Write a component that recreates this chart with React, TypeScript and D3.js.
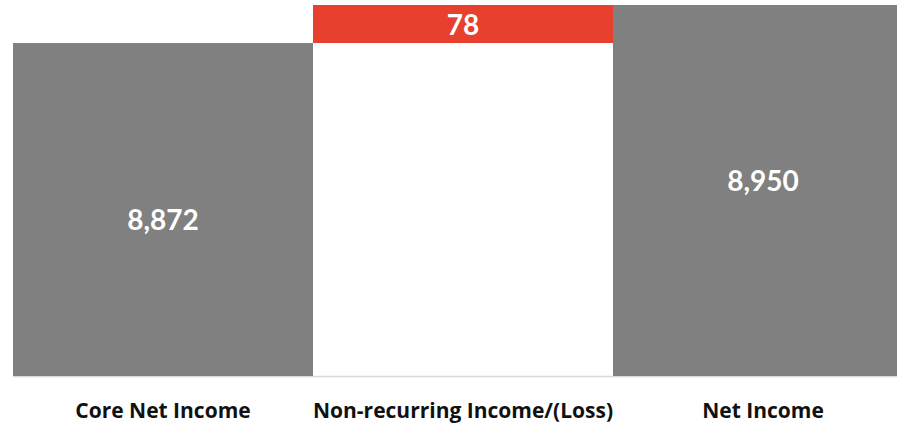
import React from "react";
import * as d3 from "d3";

const categories = ["Core Net Income", "Non-recurring Income/(Loss)", "Net Income"];
const starts = [0, 8872, 0];
const ends = [8872, 8950, 8950];
const labels = ["8,872", "78", "8,950"];
const kinds = ["total", "delta", "total"];
const labelShift = [9, 0, -11];

const W = 897;
const H = 424;

export default function App() {
  const x = d3.scaleBand<string>().domain(categories).range([13, 913]).paddingInner(0).paddingOuter(0);
  const y = d3.scaleLinear().domain([8189, 8950]).range([376, 5]);
  const yc = (v: number) => Math.min(376, Math.max(-10, y(v)));
  return (
    <svg
      width={W}
      height={H}
      style={{ position: "absolute", left: 0, top: 0, display: "block", background: "#fff" }}
    >
      <line x1={13} x2={W} y1={376.5} y2={376.5} stroke="#d9d9d9" strokeWidth={1.5} />
      {categories.map((c, i) => {
        const x0 = x(c)!;
        const bw = x.bandwidth();
        const top = yc(Math.max(starts[i], ends[i]));
        const bot = yc(Math.min(starts[i], ends[i]));
        const fill = kinds[i] === "delta" ? "#E8402F" : "#808080";
        const cx = x0 + bw / 2;
        return (
          <g key={c}>
            <rect x={x0} y={top} width={bw} height={bot - top} fill={fill} />
            <text
              x={cx}
              y={(top + bot) / 2 + labelShift[i]}
              textAnchor="middle"
              dominantBaseline="central"
              fill="#fff"
              fontFamily="Lato, 'Open Sans', sans-serif"
              fontWeight="bold"
              fontSize={28}
            >
              {labels[i]}
            </text>
            <text
              x={cx}
              y={418}
              textAnchor="middle"
              fill="#111"
              fontFamily="'Open Sans', Lato, sans-serif"
              fontWeight="bold"
              fontSize={21}
            >
              {c}
            </text>
          </g>
        );
      })}
    </svg>
  );
}
